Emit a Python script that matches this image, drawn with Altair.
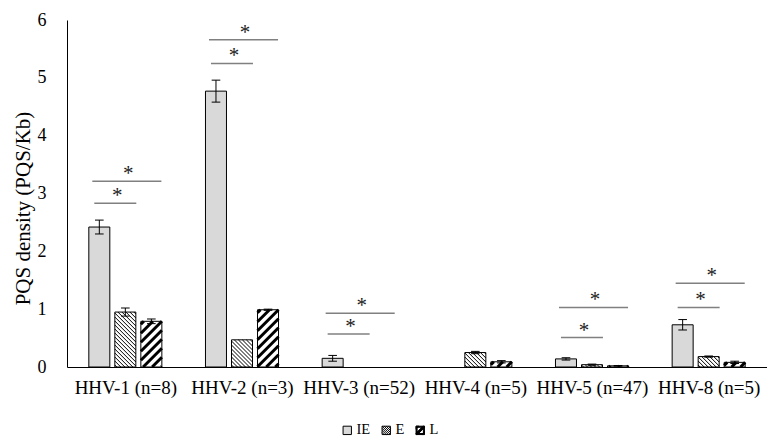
import altair as alt
import pandas as pd
import numpy as np

# ---------------- data ----------------
groups = ["HHV-1 (n=8)", "HHV-2 (n=3)", "HHV-3 (n=52)", "HHV-4 (n=5)", "HHV-5 (n=47)", "HHV-8 (n=5)"]
series = ["IE", "E", "L"]
ie_vals = [2.42, 4.77, 0.15, 0.0, 0.14, 0.73]
ie_err = [0.12, 0.19, 0.05, 0.0, 0.02, 0.09]
e_vals = [0.95, 0.47, 0.0, 0.25, 0.04, 0.18]
e_err = [0.07, 0.0, 0.0, 0.02, 0.01, 0.01]
l_vals = [0.79, 0.99, 0.0, 0.09, 0.02, 0.08]
l_err = [0.04, 0.01, 0.0, 0.02, 0.005, 0.02]
# significance brackets: group index, height of IE-vs-E line, height of IE-vs-L line
sig_groups = [0, 1, 2, 4, 5]
sig_short = [2.83, 5.25, 0.57, 0.51, 1.03]
sig_long = [3.21, 5.66, 0.93, 1.03, 1.45]

# ---------------- layout ----------------
W, H = 700, 347
XMAX, YMAX = 6, 6
PX, PY = W / XMAX, H / YMAX
OFFS = {"IE": -0.223, "E": 0.0, "L": 0.223}
BW = 0.18
CAP = 0.037
FONT = "Liberation Serif"

vals = {"IE": ie_vals, "E": e_vals, "L": l_vals}
errs = {"IE": ie_err, "E": e_err, "L": l_err}

rows = []
for s in series:
    for g in range(len(groups)):
        c = g + 0.5 + OFFS[s]
        rows.append(dict(series=s, g=g, value=vals[s][g], err=errs[s][g],
                         c=c, x0=c - BW / 2, x1=c + BW / 2))
bars = pd.DataFrame(rows)
bars_nz = bars[bars.value > 0].reset_index(drop=True)

# error bars
eb = bars[bars.err > 0].copy()
eb["lo"] = eb.value - eb.err
eb["hi"] = eb.value + eb.err
eb["c0"] = eb.c - CAP
eb["c1"] = eb.c + CAP
caps = pd.concat([eb.assign(yc=eb.lo), eb.assign(yc=eb.hi)], ignore_index=True)

# hatch segments (derived from bar values)
def hatch(df, direction, period, start):
    segs = []
    for _, r in df.iterrows():
        w = BW * PX
        h = r.value * PY
        if direction == "down":  # "\" lines
            for cc in np.arange(start, w + h, period):
                u0, u1 = max(0.0, cc - h), min(w, cc)
                if u1 - u0 > 0.2:
                    segs.append(dict(x=r.x0 + u0 / PX, y=(cc - u0) / PY,
                                     x2=r.x0 + u1 / PX, y2=(cc - u1) / PY))
        else:  # "/" lines
            for cc in np.arange(-h + start, w, period):
                u0, u1 = max(0.0, cc), min(w, h + cc)
                if u1 - u0 > 0.2:
                    segs.append(dict(x=r.x0 + u0 / PX, y=(u0 - cc) / PY,
                                     x2=r.x0 + u1 / PX, y2=(u1 - cc) / PY))
    return pd.DataFrame(segs)

hatch_e = hatch(bars_nz[bars_nz.series == "E"], "down", 4.0, 2.0)
hatch_l = hatch(bars_nz[bars_nz.series == "L"], "up", 9.0, 3.0)

# significance
sig = pd.DataFrame(dict(g=sig_groups, ys=sig_short, yl=sig_long))
sig["s0"] = sig.g + 0.5 - 0.266
sig["s1"] = sig.g + 0.5 + 0.094
sig["l0"] = sig.g + 0.5 - 0.283
sig["l1"] = sig.g + 0.5 + 0.309
sig["sx"] = sig.g + 0.5 - 0.069
sig["lx"] = sig.g + 0.5 + 0.026

# ---------------- encodings ----------------
label_expr = "[" + ",".join("'" + g + "'" for g in groups) + "][round(datum.value - 0.5)]"
xscale = alt.Scale(domain=[0, XMAX], nice=False, zero=False)
yscale = alt.Scale(domain=[0, YMAX], nice=False)
xaxis = alt.Axis(values=[i + 0.5 for i in range(len(groups))], labelExpr=label_expr,
                 title=None, grid=False, ticks=False, tickSize=0, labelPadding=11,
                 labelFont=FONT, labelFontSize=19, labelColor="black",
                 domainColor="black", domainWidth=1, labelOverlap=False, labelFlush=False)
yaxis = alt.Axis(values=list(range(0, YMAX + 1)), title="PQS density (PQS/Kb)",
                 grid=False, ticks=False, tickSize=0, labelPadding=21,
                 labelFont=FONT, labelFontSize=18, labelColor="black",
                 domainColor="black", domainWidth=1, labelFlush=False,
                 titleFont=FONT, titleFontSize=21, titleFontWeight="normal",
                 titleColor="black", titleX=-44, titleY=188, titleBaseline="middle",
                 titleAngle=270, titleAlign="center")

def X(f):
    return alt.X(f, type="quantitative", scale=xscale, axis=xaxis)

def Y(f):
    return alt.Y(f, type="quantitative", scale=yscale, axis=yaxis)

bar_fill = alt.Chart(bars_nz).transform_filter(alt.datum.series == "IE").mark_rect(
    fill="#d9d9d9", strokeWidth=0).encode(
    x=X("x0"), x2="x1", y=Y("value"), y2=alt.Y2(datum=0))

hatch_e_layer = alt.Chart(hatch_e).mark_rule(color="black", strokeWidth=1).encode(
    x=X("x"), x2="x2", y=Y("y"), y2="y2")
hatch_l_layer = alt.Chart(hatch_l).mark_rule(color="black", strokeWidth=3).encode(
    x=X("x"), x2="x2", y=Y("y"), y2="y2")

bar_outline = alt.Chart(bars_nz).mark_rect(fill="transparent", stroke="black", strokeWidth=1).encode(
    x=X("x0"), x2="x1", y=Y("value"), y2=alt.Y2(datum=0))

err_v = alt.Chart(eb).mark_rule(color="black", strokeWidth=1).encode(
    x=X("c"), y=Y("lo"), y2="hi")
err_caps = alt.Chart(caps).mark_rule(color="black", strokeWidth=1).encode(
    x=X("c0"), x2="c1", y=Y("yc"))

sig_s = alt.Chart(sig).mark_rule(color="#808080", strokeWidth=1.5).encode(
    x=X("s0"), x2="s1", y=Y("ys"))
sig_l = alt.Chart(sig).mark_rule(color="#808080", strokeWidth=1.5).encode(
    x=X("l0"), x2="l1", y=Y("yl"))
star_s = alt.Chart(sig).mark_text(text="*", font=FONT, fontSize=21, color="#222222",
                                  baseline="alphabetic", dy=-1).encode(x=X("sx"), y=Y("ys"))
star_l = alt.Chart(sig).mark_text(text="*", font=FONT, fontSize=21, color="#222222",
                                  baseline="alphabetic", dy=-1).encode(x=X("lx"), y=Y("yl"))

# legend via custom symbols
p_sq = "M-1,-1L1,-1L1,1L-1,1Z"
p_e = p_sq + "M-1,0.5L-0.5,1M-1,0L0,1M-1,-0.5L0.5,1M-1,-1L1,1M-0.5,-1L1,0.5M0,-1L1,0M0.5,-1L1,-0.5"
p_l = (p_sq + "M-0.75,-0.75L-0.75,0.75L0.75,0.75L0.75,-0.75Z"
       + "M-1,0.65L0.65,-1L1,-1L1,-0.65L-0.65,1L-1,1Z"
       + "M-1,-1L-0.3,-1L-1,-0.3ZM1,1L0.3,1L1,0.3Z")
leg = dict(title=None, orient="none", legendX=273, legendY=403, direction="horizontal",
           symbolSize=70, labelFont=FONT, labelFontSize=14.5, labelColor="black",
           columnPadding=8, labelOffset=2, symbolStrokeWidth=1, symbolOpacity=1)
legend_layer = alt.Chart(pd.DataFrame({"series": series})).mark_point(
    filled=True, opacity=0, stroke="black", strokeWidth=1).encode(
    color=alt.Color("series:N", scale=alt.Scale(domain=series, range=["#d9d9d9", "#ffffff", "#000000"]),
                    legend=alt.Legend(**leg)),
    shape=alt.Shape("series:N", scale=alt.Scale(domain=series, range=[p_sq, p_e, p_l]),
                    legend=alt.Legend(**leg)))

chart = alt.layer(bar_fill, hatch_e_layer, hatch_l_layer, bar_outline, err_v, err_caps,
                  sig_s, sig_l, star_s, star_l, legend_layer).properties(
    width=W, height=H,
    autosize=alt.AutoSizeParams(type="none"),
    padding={"left": 67, "top": 20, "right": 0, "bottom": 71},
    background="white",
).configure_view(stroke=None)

chart.save("out.html", embed_options={"renderer": "svg", "actions": False})
